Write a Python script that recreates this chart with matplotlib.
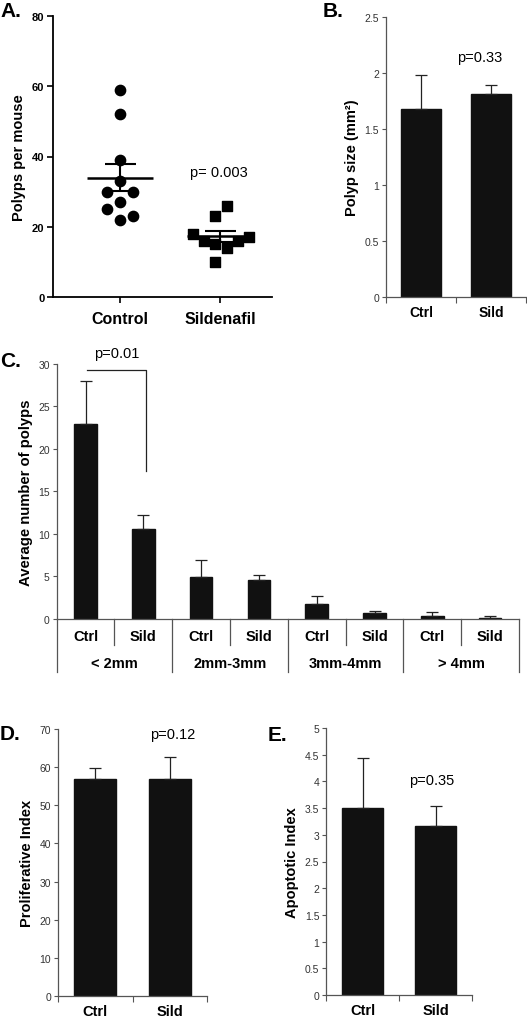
import numpy as np
import matplotlib
matplotlib.use("Agg")
import matplotlib.pyplot as plt
from matplotlib.transforms import blended_transform_factory

plt.rcParams['font.family'] = ['Liberation Sans', 'DejaVu Sans']

##### Data #####################################################
# A: polyps per mouse (individual mice)
control_polyps = [59, 52, 39, 33, 30, 30, 27, 25, 22, 23]
sild_polyps = [26, 23, 18, 17, 16, 15, 14, 16, 10]
a_groups = ['Control', 'Sildenafil']
a_pvalue = 'p= 0.003'

# B: polyp size
b_groups = ['Ctrl', 'Sild']
b_means = [1.68, 1.81]
b_err = [0.30, 0.08]
b_pvalue = 'p=0.33'

# C: polyps by size class
c_sizes = ['< 2mm', '2mm-3mm', '3mm-4mm', '> 4mm']
c_ctrl = [22.9, 4.95, 1.77, 0.35]
c_ctrl_err = [5.1, 1.96, 0.94, 0.44]
c_sild = [10.6, 4.5, 0.63, 0.12]
c_sild_err = [1.6, 0.68, 0.23, 0.15]
c_pvalue = 'p=0.01'

# D: proliferative index
d_means = [56.8, 57.0]
d_err = [2.9, 5.6]
d_pvalue = 'p=0.12'

# E: apoptotic index
e_means = [3.50, 3.16]
e_err = [0.93, 0.37]
e_pvalue = 'p=0.35'

##### Layout (beeswarm offsets for panel A) ####################
ctrl_dx = [0, 0, 0, 0, -0.13, 0.13, 0, -0.13, 0, 0.13]
sild_dx = [0.07, -0.05, -0.27, 0.29, -0.16, -0.05, 0.07, 0.18, -0.05]

W, H = 527, 1020
fig = plt.figure(figsize=(W / 100, H / 100), dpi=100)

def ax_px(l, r, t, b):
    return fig.add_axes([l / W, 1 - b / H, (r - l) / W, (b - t) / H])

BAR = '#111111'
SPINE = '#555555'
TICKC = '#333333'

def style_excel(ax):
    for s in ['top', 'right']:
        ax.spines[s].set_visible(False)
    for s in ['left', 'bottom']:
        ax.spines[s].set_color(SPINE)
        ax.spines[s].set_linewidth(0.9)
    ax.tick_params(axis='y', direction='out', length=3, width=0.8,
                   color=SPINE, labelsize=7.5, labelcolor=TICKC, pad=2)

def two_bar(ax, means, errs, ymax, ystep, ylabel, pval, px, py):
    x = np.arange(len(means))
    ax.bar(x, means, width=0.56, color=BAR, edgecolor=BAR, zorder=2)
    ax.errorbar(x, means, yerr=[np.zeros(len(errs)), errs], fmt='none',
                ecolor='#222222', elinewidth=0.9, capsize=4, capthick=0.9, zorder=3)
    ax.set_xlim(-0.5, 1.5)
    ax.set_ylim(0, ymax)
    ax.set_yticks(np.arange(0, ymax + ystep / 2, ystep))
    ax.yaxis.set_major_formatter(plt.FuncFormatter(lambda v, p: ('%g' % v)))
    style_excel(ax)
    ax.set_xticks(x)
    ax.set_xticklabels(b_groups, fontsize=10.5, fontweight='bold')
    ax.tick_params(axis='x', which='major', length=0, pad=6)
    ax.set_xticks([-0.5, 0.5, 1.5], minor=True)
    ax.tick_params(axis='x', which='minor', direction='out', length=4,
                   width=0.8, color=SPINE)
    ax.set_ylabel(ylabel, fontsize=10.5, fontweight='bold')
    ax.text(px, py, pval, fontsize=10.5, ha='center', va='center',
            transform=ax.transAxes)

##### Panel A ##################################################
axA = ax_px(52.7, 272, 17.3, 297.7)
axA.scatter(np.array(ctrl_dx), control_polyps, s=55, marker='o',
            color='black', zorder=3)
axA.scatter(1 + np.array(sild_dx), sild_polyps, s=50, marker='s',
            color='black', zorder=3)
for i, vals in enumerate([control_polyps, sild_polyps]):
    m = np.mean(vals)
    sem = np.std(vals, ddof=1) / np.sqrt(len(vals))
    axA.hlines(m, i - 0.33, i + 0.33, color='black', lw=1.8, zorder=4)
    axA.vlines(i, m - sem, m + sem, color='black', lw=1.5, zorder=4)
    axA.hlines([m - sem, m + sem], i - 0.155, i + 0.155, color='black',
               lw=1.5, zorder=4)
axA.set_xlim(-0.673, 1.52)
axA.set_ylim(0, 80)
axA.set_yticks([0, 20, 40, 60, 80])
axA.set_xticks([0, 1])
axA.set_xticklabels(a_groups, fontsize=11.5, fontweight='bold')
for s in ['top', 'right']:
    axA.spines[s].set_visible(False)
for s in ['left', 'bottom']:
    axA.spines[s].set_linewidth(1.3)
axA.tick_params(axis='both', direction='out', length=4, width=1.2)
axA.tick_params(axis='y', labelsize=8, pad=2)
for t in axA.get_yticklabels():
    t.set_fontweight('bold')
axA.tick_params(axis='x', pad=6)
axA.set_ylabel('Polyps per mouse', fontsize=10.5, fontweight='bold')
axA.text(0.76, 0.445, a_pvalue, fontsize=10.5, ha='center', va='center',
         transform=axA.transAxes)

##### Panel B ##################################################
axB = ax_px(386, 526, 18.3, 297.7)
two_bar(axB, b_means, b_err, 2.5, 0.5, 'Polyp size (mm²)', b_pvalue, 0.67, 0.857)
for t in axB.get_xticklabels():
    t.set_fontsize(10)

##### Panel C ##################################################
axC = ax_px(56.7, 519, 365, 619.7)
n = len(c_sizes)
xc = np.arange(2 * n)
vals = np.ravel(np.column_stack([c_ctrl, c_sild]))
errs = np.ravel(np.column_stack([c_ctrl_err, c_sild_err]))
axC.bar(xc, vals, width=0.39, color=BAR, edgecolor=BAR, zorder=2)
axC.errorbar(xc, vals, yerr=[np.zeros(len(errs)), errs], fmt='none',
             ecolor='#222222', elinewidth=0.9, capsize=4, capthick=0.9, zorder=3)
axC.set_xlim(-0.5, 2 * n - 0.5)
axC.set_ylim(0, 30)
axC.set_yticks(np.arange(0, 31, 5))
style_excel(axC)
axC.set_xticks([])
trC = blended_transform_factory(axC.transData, axC.transAxes)
for k in range(2 * n + 1):
    xb = k - 0.5
    yend = -0.209 if k % 2 == 0 else -0.103
    axC.plot([xb, xb], [0, yend], color=SPINE, lw=0.9, transform=trC,
             clip_on=False)
for i in range(2 * n):
    axC.text(i, -0.068, b_groups[i % 2], fontsize=10.5, fontweight='bold',
             ha='center', va='center', transform=trC)
for j, lab in enumerate(c_sizes):
    axC.text(2 * j + 0.5, -0.173, lab, fontsize=10.5, fontweight='bold',
             ha='center', va='center', transform=trC)
axC.set_ylabel('Average number of polyps', fontsize=10.7, fontweight='bold')
# significance bracket
br_y, br_bottom, br_left, br_right = 29.25, 17.4, 0.03, 1.04
axC.plot([br_left, br_right, br_right], [br_y, br_y, br_bottom], color='#222222',
         lw=0.9, clip_on=False)
axC.text((br_left + br_right) / 2, 30.5, c_pvalue, fontsize=10.5,
         ha='center', va='bottom')

##### Panel D ##################################################
axD = ax_px(58, 207.3, 730, 997)
two_bar(axD, d_means, d_err, 70, 10, 'Proliferative Index', d_pvalue, 0.77, 0.98)

##### Panel E ##################################################
axE = ax_px(326.3, 472, 729, 996)
two_bar(axE, e_means, e_err, 5, 0.5, 'Apoptotic Index', e_pvalue, 0.72, 0.805)

##### Panel letters ############################################
for lab, x, y in [('A.', 0, 17), ('B.', 323, 17), ('C.', 0, 367),
                  ('D.', 0, 740), ('E.', 268, 741)]:
    fig.text(x / W, 1 - y / H, lab, fontsize=15, fontweight='bold',
             ha='left', va='baseline')

fig.savefig('out.png', dpi=100)
